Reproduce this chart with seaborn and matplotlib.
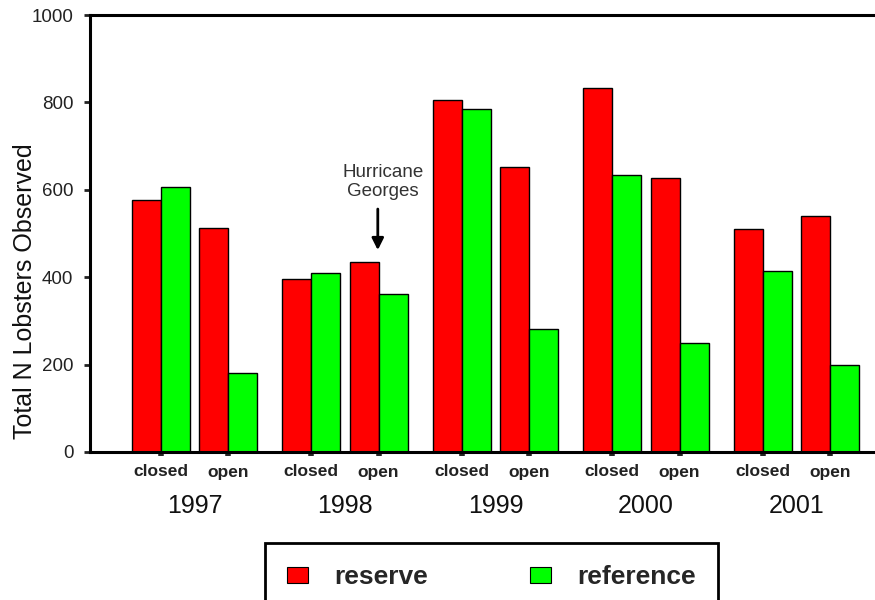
import numpy as np
import pandas as pd
import seaborn as sns
import matplotlib.pyplot as plt
from matplotlib.patches import Patch
from matplotlib.transforms import blended_transform_factory

years = ["1997", "1998", "1999", "2000", "2001"]
conditions = ["closed", "open"]
# values in order: 1997 closed, 1997 open, 1998 closed, ...
reserve = [576, 512, 395, 434, 805, 653, 832, 627, 510, 540]
reference = [607, 180, 409, 361, 784, 282, 633, 249, 415, 200]
sites = ["reserve", "reference"]
colors = {"reserve": "#ff0000", "reference": "#00ff00"}

# spacing between closed/open within a year (in year units)
SUB = 0.4465

rows = []
for i, yr in enumerate(years):
    for j, cond in enumerate(conditions):
        k = i * 2 + j
        pos = i + (j - 0.5) * SUB
        rows.append((yr, cond, pos, "reserve", reserve[k]))
        rows.append((yr, cond, pos, "reference", reference[k]))
df = pd.DataFrame(rows, columns=["year", "condition", "pos", "site", "n"])

sns.set_style("ticks")
plt.rcParams["font.family"] = ["Liberation Sans", "DejaVu Sans"]

fig = plt.figure(figsize=(8.75, 6), dpi=100)
ax = fig.add_axes([90 / 875, 1 - 452 / 600, 1 - 90 / 875, (452 - 15) / 600])

sns.barplot(data=df, x="pos", y="n", hue="site", hue_order=sites,
            palette=colors, saturation=1, native_scale=True, width=0.863,
            gap=0, edgecolor="black", linewidth=1, errorbar=None,
            legend=False, ax=ax)

ax.set_ylim(0, 1000)
ax.set_xlim(-0.694, 4.522)
ax.set_yticks(range(0, 1001, 200))
ax.tick_params(axis="y", labelsize=13.5, length=4, width=2, pad=8,
               colors="#222222", direction="out")
ax.tick_params(axis="x", length=3, width=4, pad=6, direction="out")

tick_pos = sorted(df["pos"].unique())
ax.set_xticks(tick_pos)
ax.set_xticklabels(conditions * len(years), fontsize=12.5, fontweight="bold",
                   color="#222222")

ax.set_xlabel("")
ax.set_ylabel("Total N Lobsters Observed", fontsize=18, color="#111111")
ax.yaxis.set_label_coords(-0.068, 0.368)

for side in ["left", "bottom", "top"]:
    ax.spines[side].set_visible(True)
    ax.spines[side].set_linewidth(2.2)
    ax.spines[side].set_color("black")
ax.spines["right"].set_visible(False)

# year labels below the condition labels
trans = blended_transform_factory(ax.transData, fig.transFigure)
for i, yr in enumerate(years):
    ax.text(i, 1 - 506 / 600, yr, transform=trans, ha="center", va="center",
            fontsize=18, color="#111111")

# Hurricane Georges marker over 1998 open
hx = 1 + 0.5 * SUB
ax.annotate("", xy=(hx - 0.005, 462), xytext=(hx - 0.005, 556),
            arrowprops=dict(arrowstyle="-|>,head_length=0.7,head_width=0.35",
                            lw=2, color="black", shrinkA=0, shrinkB=0))
ax.text(hx + 0.03, 577, "Hurricane\nGeorges", ha="center", va="bottom",
        fontsize=13.5, color="#333333", linespacing=1.15)

handles = [Patch(facecolor=colors[s], edgecolor="black", linewidth=0.8)
           for s in sites]
leg = fig.legend(handles, sites, loc="upper center",
                 bbox_to_anchor=(491.5 / 875, 1 - 543 / 600), ncol=2,
                 prop=dict(weight="bold", size=19), handlelength=0.8,
                 handleheight=0.57, handletextpad=1.0, columnspacing=3.85,
                 borderpad=0.85, borderaxespad=0, frameon=True,
                 fancybox=False, framealpha=1)
leg.get_frame().set_edgecolor("black")
leg.get_frame().set_linewidth(2)

plt.savefig("out.png", dpi=100)
plt.close()
